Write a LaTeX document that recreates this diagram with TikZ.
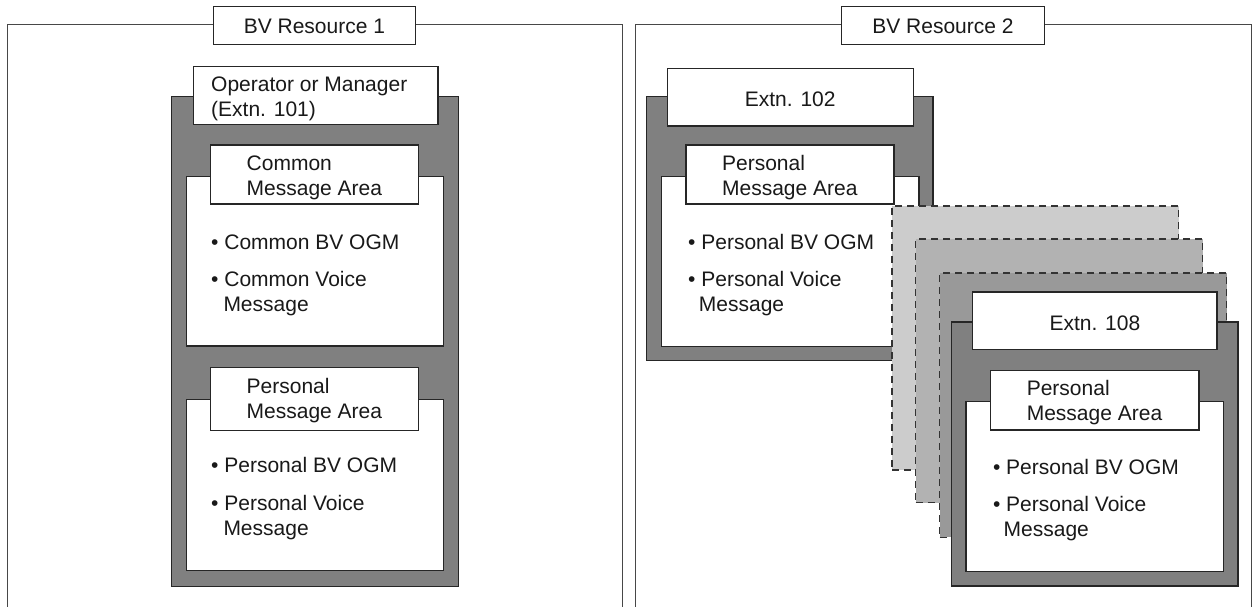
\documentclass[tikz,border=0pt]{standalone}
\usepackage{fontspec}
\setmainfont{Liberation Sans}
\newcommand{\mybox}[6]{\node[#6, anchor=north west, minimum width={#4-#2}, minimum height={#5-#3}] (#1) at (#2,#3) {};}
\begin{document}
\begin{tikzpicture}[x=1pt,y=-1pt, font=\fontsize{21}{25}\selectfont,
  frameline/.style={draw=black!72, line width=1pt},
  wbox/.style={draw=black!85, fill=white, line width=1.1pt, inner sep=0pt, outer sep=0pt, rectangle},
  dbox/.style={draw=black!85, fill=black!50, line width=1.1pt, inner sep=0pt, outer sep=0pt, rectangle},
  pagebox/.style={draw=black!80, dash pattern=on 7pt off 5pt, line width=1.1pt, inner sep=0pt, outer sep=0pt, rectangle},
  txt/.style={anchor=base west, inner sep=0pt, text=black!90},
  ctxt/.style={anchor=base, inner sep=0pt, text=black!90}]
\useasboundingbox (0,0) rectangle (1255,607);
\fill[white] (0,0) rectangle (1255,607);

% ---------- frames ----------
\draw[frameline] (7.3,640) -- (7.3,25) -- (622.7,25) -- (622.7,640);
\draw[frameline] (635,640) -- (635,25) -- (1251,25) -- (1251,640);
\mybox{t1}{213.1}{6.7}{415.6}{44.3}{wbox}
\node[ctxt] (t1txt) at (314.4,33.5) {BV Resource 1};
\mybox{t2}{841.4}{6.7}{1044.6}{44.3}{wbox}
\node[ctxt] (t2txt) at (943,33.5) {BV Resource 2};

% ---------- left: operator ----------
\mybox{d101}{171.5}{96.7}{458.4}{586.7}{dbox}
\mybox{op}{193.1}{66.7}{438}{124.3}{wbox}
\node[txt] (op1) at (211,91.5) {Operator or Manager};
\node[txt] (op2) at (211,116.5) {(Extn. 101)};

\mybox{cw}{186.2}{176.7}{443.3}{346}{wbox}
\mybox{ch}{210.6}{145}{418.5}{204}{wbox}
\node[txt] (ch1) at (246.5,170.5) {Common};
\node[txt] (ch2) at (246.5,195.5) {Message Area};
\node[txt] (cb1) at (211,249.2) {• Common BV OGM};
\node[txt] (cb2) at (211,286.5) {• Common Voice};
\node[txt] (cb3) at (223.3,311.5) {Message};

\mybox{pw}{186.2}{399.3}{443.3}{570.7}{wbox}
\mybox{ph}{210.6}{367.7}{418.5}{430.7}{wbox}
\node[txt] (ph1) at (246.5,393.5) {Personal};
\node[txt] (ph2) at (246.5,418.5) {Message Area};
\node[txt] (pb1) at (211,472.5) {• Personal BV OGM};
\node[txt] (pb2) at (211,510.5) {• Personal Voice};
\node[txt] (pb3) at (223.3,535.5) {Message};

% ---------- right: Extn 102 ----------
\mybox{d102}{646.2}{96.7}{933}{360.7}{dbox}
\mybox{e102}{667.3}{68.3}{913.1}{126}{wbox}
\node[ctxt] (e102txt) at (790.2,106.8) {Extn. 102};
\mybox{w102}{661.3}{176.7}{919}{346.7}{wbox}
\mybox{h102}{686}{145}{894}{204}{wbox}
\node[txt] (h102a) at (721.9,170.5) {Personal};
\node[txt] (h102b) at (721.9,195.5) {Message Area};
\node[txt] (b102a) at (688,249.2) {• Personal BV OGM};
\node[txt] (b102b) at (688,286.5) {• Personal Voice};
\node[txt] (b102c) at (698.7,311.5) {Message};

% ---------- stacked pages ----------
\mybox{pg1}{892}{206}{1178.8}{470}{pagebox, fill=black!20}
\mybox{pg2}{915.5}{239}{1202.7}{502.7}{pagebox, fill=black!30}
\mybox{pg3}{939.8}{273}{1226.6}{537.3}{pagebox, fill=black!40}

% ---------- Extn 108 ----------
\mybox{d108}{951.3}{322}{1238}{586}{dbox}
\mybox{e108}{972.8}{292}{1217}{349.3}{wbox}
\node[ctxt] (e108txt) at (1094.9,330.5) {Extn. 108};
\mybox{w108}{966}{401.7}{1223.8}{571.7}{wbox}
\mybox{h108}{990.8}{370.7}{1199}{430}{wbox}
\node[txt] (h108a) at (1026.6,395.5) {Personal};
\node[txt] (h108b) at (1026.6,420.5) {Message Area};
\node[txt] (b108a) at (992.8,474.2) {• Personal BV OGM};
\node[txt] (b108b) at (992.8,511.5) {• Personal Voice};
\node[txt] (b108c) at (1003.5,536.5) {Message};
\end{tikzpicture}
\end{document}
